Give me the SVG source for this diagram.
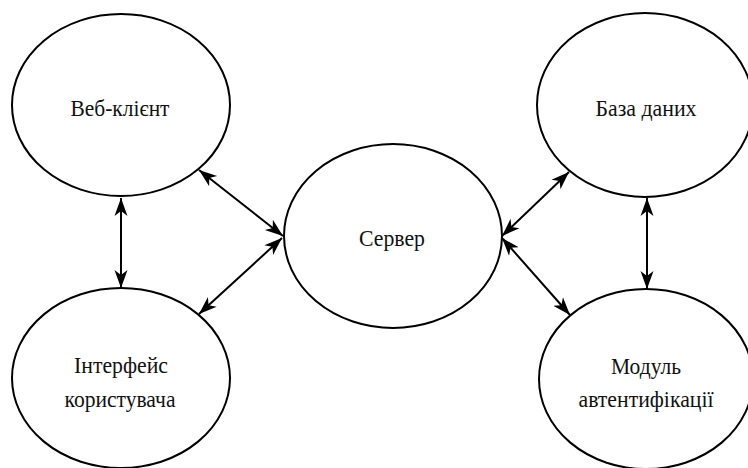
<svg xmlns="http://www.w3.org/2000/svg" width="748" height="468" viewBox="0 0 748 468">
<style>
.node ellipse{fill:#fff;stroke:#000;stroke-width:2}
.node text{font-family:'Liberation Serif','Times New Roman',serif;font-size:24px;fill:#111;text-anchor:middle}
.edge{stroke:#000;stroke-width:2;fill:none;marker-start:url(#ah);marker-end:url(#ah)}
</style>
<defs>
<marker id="ah" markerUnits="userSpaceOnUse" markerWidth="20" markerHeight="15" refX="18" refY="7" orient="auto-start-reverse" viewBox="0 0 20 14">
<path d="M0,0.5 L18,7 L0,13.5 L5,7 Z" fill="#000"/>
</marker>
</defs>
<rect width="748" height="468" fill="#fff"/>
<g id="web-client" class="node">
<ellipse cx="121" cy="105" rx="109" ry="91"/>
<text x="120" y="116" textLength="99" lengthAdjust="spacingAndGlyphs">Веб-клієнт</text>
</g>
<g id="user-interface" class="node">
<ellipse cx="121" cy="378" rx="109" ry="90"/>
<text x="121" y="373" textLength="94" lengthAdjust="spacingAndGlyphs">Інтерфейс</text>
<text x="120" y="407" textLength="111" lengthAdjust="spacingAndGlyphs">користувача</text>
</g>
<g id="server" class="node">
<ellipse cx="393" cy="236" rx="109" ry="92"/>
<text x="392" y="246" textLength="66" lengthAdjust="spacingAndGlyphs">Сервер</text>
</g>
<g id="database" class="node">
<ellipse cx="645" cy="105" rx="108" ry="92"/>
<text x="646" y="116" textLength="101" lengthAdjust="spacingAndGlyphs">База даних</text>
</g>
<g id="auth-module" class="node">
<ellipse cx="646" cy="379" rx="107" ry="90"/>
<text x="646" y="374" textLength="70" lengthAdjust="spacingAndGlyphs">Модуль</text>
<text x="646" y="407" textLength="135" lengthAdjust="spacingAndGlyphs">автентифікації</text>
</g>
<g id="connectors">
<line class="edge" x1="121" y1="198" x2="121" y2="288"/>
<line class="edge" x1="647" y1="198" x2="647" y2="289"/>
<line class="edge" x1="199" y1="170" x2="283" y2="236"/>
<line class="edge" x1="199" y1="314" x2="282" y2="238"/>
<line class="edge" x1="569" y1="172" x2="502" y2="236"/>
<line class="edge" x1="570" y1="315" x2="502" y2="238"/>
</g>
</svg>
